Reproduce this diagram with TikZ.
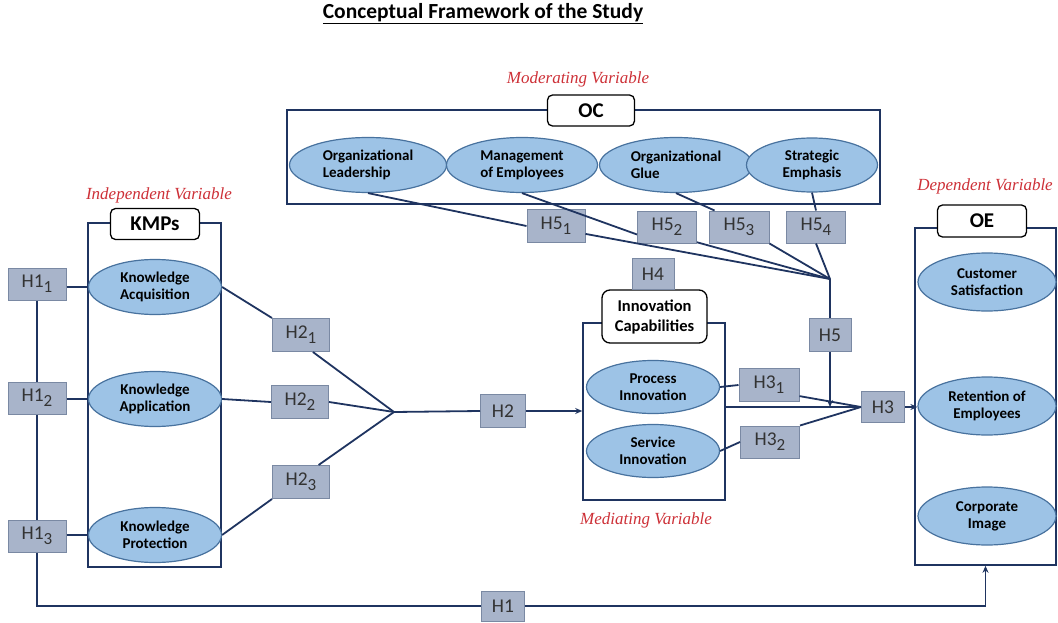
\documentclass[tikz,border=0pt]{standalone}
\usepackage{fontspec}
\setmainfont{Carlito}
\newfontfamily\labelfont{Liberation Serif}
\usetikzlibrary{shapes.geometric,arrows.meta,calc}
\definecolor{navy}{RGB}{31,52,96}
\definecolor{ellfill}{RGB}{157,195,230}
\definecolor{ellline}{RGB}{72,114,158}
\definecolor{hfill}{RGB}{168,180,202}
\definecolor{hline}{RGB}{122,137,163}
\definecolor{redlab}{RGB}{205,48,55}
\newcommand\hsub[1]{\raisebox{-5pt}{\fontsize{17}{17}\selectfont #1}}

\begin{document}
\begin{tikzpicture}[x=1pt,y=-1pt,
  conn/.style={draw=navy,line width=1.8pt},
  arr/.style={conn,-{Stealth[length=7pt,width=6pt]}},
  hbox/.style={draw=hline,fill=hfill,line width=1pt,inner sep=0pt,
    minimum height=33pt,minimum width=58pt,
    font=\fontsize{19.5}{19.5}\selectfont,text=black!80},
  fac/.style={ellipse,draw=ellline,fill=ellfill,line width=1.2pt,inner sep=0pt,
    minimum width=133pt,minimum height=55pt,
    font=\bfseries\fontsize{15}{17}\selectfont,align=center},
  grpbox/.style={draw=navy,line width=1.6pt,inner sep=0pt},
  tagbox/.style={draw=black,fill=white,rounded corners=5pt,line width=1.3pt,inner sep=0pt,
    font=\bfseries\fontsize{21}{22}\selectfont,align=center},
  vlab/.style={text=redlab,font=\labelfont\itshape\fontsize{17}{17}\selectfont}
]
\useasboundingbox (0,0) rectangle (1058,623);

% title
\node[font=\bfseries\fontsize{21.5}{24}\selectfont] (title) at (483,14) {\underline{Conceptual Framework of the Study}};

% variable captions
\node[vlab] (modlab) at (578,79) {Moderating Variable};
\node[vlab] (indlab) at (159,195) {Independent Variable};
\node[vlab] (deplab) at (985,186) {Dependent Variable};
\node[vlab] (medlab) at (646,520) {Mediating Variable};

% group frames
\node[grpbox,minimum width=593pt,minimum height=94pt] (ocbox) at (583.5,157) {};
\node[grpbox,minimum width=133pt,minimum height=344pt] (kmpbox) at (154.5,395) {};
\node[grpbox,minimum width=142pt,minimum height=177pt] (icbox) at (654,411.5) {};
\node[grpbox,minimum width=141pt,minimum height=337pt] (oebox) at (985.5,396.5) {};

% group tags
\node[tagbox,minimum width=87pt,minimum height=31pt] (octag) at (591,110.5) {OC};
\node[tagbox,minimum width=89pt,minimum height=31pt] (kmptag) at (155,224) {KMPs};
\node[tagbox,minimum width=89pt,minimum height=32pt] (oetag) at (982,221) {OE};
\node[tagbox,minimum width=105pt,minimum height=53pt,rounded corners=8pt,
  font=\bfseries\fontsize{16.5}{20}\selectfont] (ictag) at (654.5,316.5) {Innovation\\Capabilities};

% organizational culture
\node[fac,minimum width=157pt,align=left] (ol) at (368,165) {Organizational\\Leadership};
\node[fac,minimum width=151pt,align=left] (me) at (522,165) {Management\\of Employees};
\node[fac,minimum width=153pt,align=left] (og) at (676,165) {Organizational\\Glue};
\node[fac,minimum width=131pt,minimum height=54pt] (se) at (812,165) {Strategic\\Emphasis};

% knowledge management processes
\node[fac] (ka) at (155,287) {Knowledge\\Acquisition};
\node[fac] (kapp) at (155,399) {Knowledge\\Application};
\node[fac] (kp) at (155,535) {Knowledge\\Protection};

% innovation capabilities
\node[fac,minimum height=53pt] (pi) at (653,387) {Process\\Innovation};
\node[fac,minimum height=53pt] (si) at (653,451) {Service\\Innovation};

% organizational effectiveness
\node[fac,minimum width=138pt,minimum height=58pt] (cs) at (987,282) {Customer\\Satisfaction};
\node[fac,minimum width=138pt,minimum height=58pt] (re) at (987,406) {Retention of\\Employees};
\node[fac,minimum width=138pt,minimum height=58pt] (ci) at (987,516) {Corporate\\Image};

% hypothesis boxes
\node[hbox] (h51) at (556,226) {H5\hsub{1}};
\node[hbox,minimum width=59pt,minimum height=32pt] (h52) at (667,227) {H5\hsub{2}};
\node[hbox,minimum width=60pt,minimum height=32pt] (h53) at (739,227) {H5\hsub{3}};
\node[hbox,minimum width=59pt,minimum height=32pt] (h54) at (816,227) {H5\hsub{4}};
\node[hbox,minimum width=42pt,minimum height=31pt] (h4) at (653,274) {H4};
\node[hbox,minimum width=42pt] (h5) at (830,335) {H5};
\node[hbox,minimum width=60pt] (h31) at (769,385) {H3\hsub{1}};
\node[hbox,minimum width=59pt,minimum height=32pt] (h32) at (770,442) {H3\hsub{2}};
\node[hbox,minimum width=43pt,minimum height=31pt] (h3) at (883,407) {H3};
\node[hbox,minimum height=32pt] (h11) at (37,284) {H1\hsub{1}};
\node[hbox,minimum height=32pt] (h12) at (37,398) {H1\hsub{2}};
\node[hbox,minimum height=32pt] (h13) at (37,536) {H1\hsub{3}};
\node[hbox,minimum width=57pt] (h21) at (301,335) {H2\hsub{1}};
\node[hbox,minimum width=57pt] (h22) at (300,402) {H2\hsub{2}};
\node[hbox,minimum width=57pt] (h23) at (301,482) {H2\hsub{3}};
\node[hbox,minimum width=45pt] (h2) at (503,411) {H2};
\node[hbox,minimum width=43pt,minimum height=30pt] (h1) at (503,606) {H1};

% junction points
\coordinate (c5) at (830,279);
\coordinate (c2) at (394,412);

% moderating paths
\draw[conn] (ol.south) -- (h51.west);
\draw[conn] (h51.345) -- (c5);
\draw[conn] (me.south) -- (h52.194);
\draw[conn] (h52.333) -- (c5);
\draw[conn] (og.south) -- (h53.146);
\draw[conn] (h53.south east) -- (c5);
\draw[conn] (se.south) -- (h54.north);
\draw[conn] (h54.south) -- (c5);
\draw[conn] (c5) -- (h5.north);
\draw[arr] (h5.south) -- (h5.south |- h3.west);

% knowledge processes to innovation capabilities
\draw[conn] (ka.east) -- (h21.north west);
\draw[conn] (h21.-55) -- (c2);
\draw[conn] (kapp.east) -- (h22.west);
\draw[conn] (h22.east) -- (c2);
\draw[conn] (kp.east) -- (h23.south west);
\draw[conn] (h23.44) -- (c2);
\draw[conn] (c2) -- (h2.west);
\draw[arr] (h2.east) -- (icbox.west |- h2.east);

% innovation capabilities to effectiveness
\draw[conn] (pi.east) -- (h31.west);
\draw[conn] (h31.-20) -- (h3.west);
\draw[conn] (si.east) -- (h32.west);
\draw[conn] (h32.north east) -- (h3.west);
\draw[conn] (icbox.east |- h3.west) -- (h3.west);
\draw[arr] (h3.east) -- (re.west |- h3.east);

% direct effect
\draw[conn] (h11.east |- ka.west) -- (ka.west);
\draw[conn] (h12.east |- kapp.west) -- (kapp.west);
\draw[conn] (h13.east |- kp.west) -- (kp.west);
\draw[conn] (h11.south) -- (h12.north);
\draw[conn] (h12.south) -- (h13.north);
\draw[conn] (h13.south) |- (h1.west);
\draw[arr] (h1.east) -| (oebox.south);
\end{tikzpicture}
\end{document}
